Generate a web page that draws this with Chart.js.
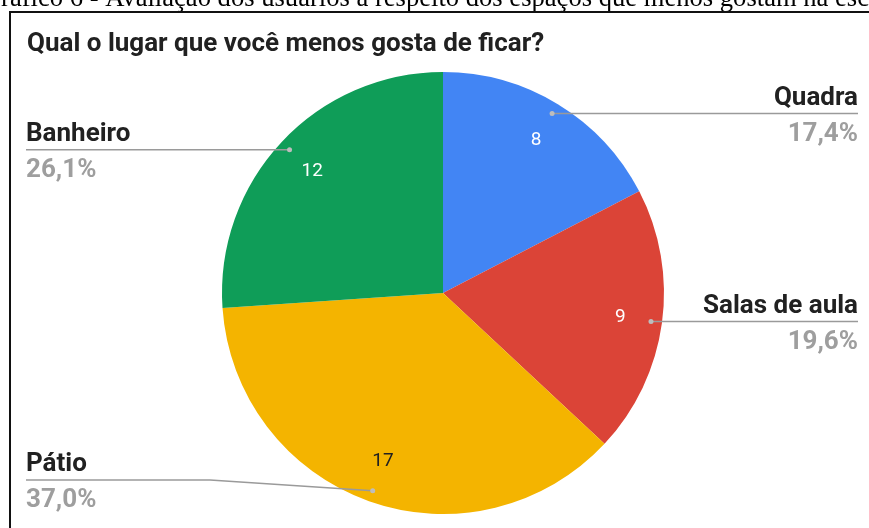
<!DOCTYPE html>
<html lang="pt-BR">
<head>
<meta charset="utf-8">
<title>Qual o lugar que você menos gosta de ficar?</title>
<script src="https://cdn.jsdelivr.net/npm/chart.js@4"></script>
<style>
  html, body { margin: 0; padding: 0; background: #fff; }
  #grafico { display: block; }
</style>
</head>
<body>
<canvas id="grafico" width="869" height="528"></canvas>
<script>
// respostas do questionário
const categorias = ['Quadra', 'Salas de aula', 'Pátio', 'Banheiro'];
const respostas = [8, 9, 17, 12];

const cores = ['#4285F4', '#DB4437', '#F4B400', '#0F9D58'];
const corDoValor = ['#ffffff', '#ffffff', '#212121', '#ffffff'];

const legenda = 'Gráfico 6 - Avaliação dos usuários a respeito dos espaços que menos gostam na escola';
const titulo = 'Qual o lugar que você menos gosta de ficar?';

const total = respostas.reduce((a, b) => a + b, 0);
const pct = v => (v / total * 100).toFixed(1).replace('.', ',') + '%';

// rótulos externos com linha guia, no estilo do Google Forms
const rotulos = {
    id: 'rotulos',
    afterDraw(chart) {
        const ctx = chart.ctx;
        ctx.save();

        // legenda do documento (cortada no topo e à direita)
        ctx.font = '26.6px "Liberation Serif", "Times New Roman", serif';
        ctx.fillStyle = '#000';
        ctx.textBaseline = 'alphabetic';
        ctx.textAlign = 'left';
        const visivel = legenda.slice(0, legenda.indexOf('escola') + 3);
        ctx.fillText(legenda, 869 - ctx.measureText(visivel).width, 6);

        // moldura
        ctx.strokeStyle = '#111';
        ctx.lineWidth = 2;
        ctx.beginPath();
        ctx.moveTo(10, 530);
        ctx.lineTo(10, 12);
        ctx.lineTo(870, 12);
        ctx.stroke();

        ctx.font = 'bold 26px Roboto, sans-serif';
        ctx.fillStyle = '#212121';
        ctx.fillText(titulo, 27, 51);

        const meta = chart.getDatasetMeta(0);
        const esq = 26, dir = 858, yMax = 480, dobra = 210;

        meta.data.forEach((arc, i) => {
            const p = arc.getProps(['x', 'y', 'startAngle', 'endAngle', 'outerRadius'], true);
            const meio = (p.startAngle + p.endAngle) / 2;
            const cos = Math.cos(meio), sin = Math.sin(meio);

            // valor dentro da fatia
            ctx.font = '19px Roboto, sans-serif';
            ctx.fillStyle = corDoValor[i];
            ctx.textAlign = 'center';
            ctx.textBaseline = 'middle';
            ctx.fillText(String(respostas[i]), p.x + cos * p.outerRadius * 0.81, p.y + sin * p.outerRadius * 0.81);

            // ponto e linha guia
            const px = p.x + cos * p.outerRadius * 0.95;
            const py = p.y + sin * p.outerRadius * 0.95;
            const ly = Math.min(py, yMax);
            const direita = cos >= 0;

            ctx.strokeStyle = '#9a9a9a';
            ctx.lineWidth = 1.5;
            ctx.beginPath();
            if (direita) {
                ctx.moveTo(px, ly);
                ctx.lineTo(dir, ly);
            } else if (ly !== py) {
                ctx.moveTo(esq, ly);
                ctx.lineTo(dobra, ly);
                ctx.lineTo(px, py);
            } else {
                ctx.moveTo(esq, ly);
                ctx.lineTo(px, py);
            }
            ctx.stroke();

            ctx.fillStyle = '#bdbdbd';
            ctx.beginPath();
            ctx.arc(px, py, 2.5, 0, Math.PI * 2);
            ctx.fill();

            // nome e percentual
            const tx = direita ? dir : esq;
            ctx.textAlign = direita ? 'right' : 'left';
            ctx.textBaseline = 'alphabetic';
            ctx.font = 'bold 26px Roboto, sans-serif';
            ctx.fillStyle = '#212121';
            ctx.fillText(categorias[i], tx, ly - 9);
            ctx.fillStyle = '#9e9e9e';
            ctx.fillText(pct(respostas[i]), tx, ly + 27);
        });

        ctx.restore();
    }
};

new Chart(document.getElementById('grafico'), {
    type: 'pie',
    data: {
        labels: categorias,
        datasets: [{
            data: respostas,
            backgroundColor: cores,
            borderWidth: 0
        }]
    },
    options: {
        responsive: false,
        animation: false,
        layout: { padding: { top: 72, bottom: 14, left: 222, right: 205 } },
        plugins: {
            legend: { display: false },
            tooltip: { enabled: false }
        }
    },
    plugins: [rotulos]
});
</script>
</body>
</html>
